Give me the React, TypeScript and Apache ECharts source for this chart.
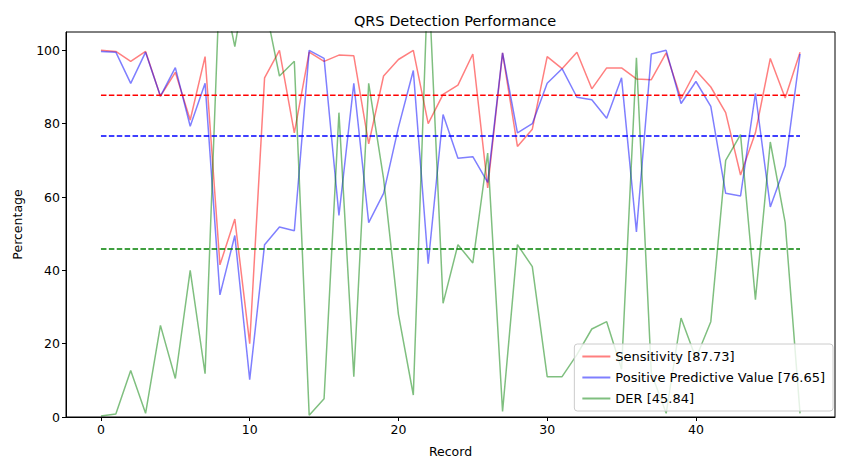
import React, { useEffect, useRef } from 'react';
import * as echarts from 'echarts';

const records = Array.from({ length: 48 }, (_, i) => i);

const sensitivity = [
  100, 99.7, 97, 99.7, 87.5, 94, 81, 98.3, 41.5, 54, 20, 92.5, 100, 77.5, 99.5, 97,
  98.7, 98.5, 74.5, 93, 97.5, 100, 80, 88, 90.5, 99, 62.5, 99.3, 73.8, 78.5, 98.3, 95,
  99.5, 89.5, 95.2, 95.2, 92.2, 92, 99.3, 86.8, 94.5, 90, 83, 66, 77.5, 97.8, 87, 99.5,
];
const ppv = [
  99.7, 99.5, 91, 99.5, 87.5, 95.3, 79.3, 91, 33.3, 49.5, 10.2, 47, 51.8, 50.8, 100, 97.8,
  55, 91, 53, 61, 79, 94.5, 41.8, 82.5, 70.6, 71, 64, 99.3, 77.5, 80, 91, 95,
  87.2, 86.5, 81.5, 92.5, 50.5, 99, 100, 85.5, 91.5, 84.7, 61, 60.3, 88.3, 57.3, 68.5, 99,
];
const der = [
  0.3, 0.8, 12.7, 1, 25, 10.5, 40, 11.8, 121, 101, 125, 113, 93, 97, 0.5, 5,
  83, 11, 91, 65, 28, 6, 122, 31, 47, 42, 72, 1.5, 47, 41, 11, 11,
  17, 24, 26, 13, 98, 12, 1, 27, 16, 26, 70, 77, 32, 75, 53, 1,
];
const means = [87.73, 76.65, 45.84];
const names = ['Sensitivity [87.73]', 'Positive Predictive Value [76.65]', 'DER [45.84]'];
const lineColors = ['rgba(255,0,0,0.5)', 'rgba(0,0,255,0.5)', 'rgba(0,128,0,0.5)'];
const dashColors = ['#ff0000', '#0000ff', '#008000'];
const xTicks = [0, 10, 20, 30, 40];
const yTicks = [0, 20, 40, 60, 80, 100];

const App: React.FC = () => {
  const ref = useRef<HTMLDivElement>(null);

  useEffect(() => {
    if (!ref.current) return;
    const chart = echarts.init(ref.current, null, { renderer: 'svg' });
    const font = 'DejaVu Sans';
    const values = [sensitivity, ppv, der];

    const series: any[] = [];
    values.forEach((vals, i) => {
      series.push({
        name: names[i],
        type: 'line',
        data: records.map((r, j) => [r, vals[j]]),
        showSymbol: false,
        lineStyle: { color: lineColors[i], width: 1.5 },
        itemStyle: { color: lineColors[i] },
        z: 2,
      });
    });
    means.forEach((m, i) => {
      series.push({
        name: 'mean' + i,
        type: 'line',
        data: [[0, m], [47, m]],
        showSymbol: false,
        lineStyle: { color: dashColors[i], width: 1.5, type: [5.5, 2.4] },
        z: 3,
      });
    });

    chart.setOption({
      animation: false,
      textStyle: { fontFamily: font },
      title: {
        text: 'QRS Detection Performance',
        left: 450,
        textAlign: 'center',
        top: 8,
        textStyle: { fontFamily: font, fontSize: 14.5, fontWeight: 'normal', color: '#000' },
      },
      grid: { left: 66, right: 15, top: 32, bottom: 53 },
      legend: {
        data: names,
        orient: 'vertical',
        right: 17,
        bottom: 59,
        itemWidth: 28,
        itemHeight: 2,
        itemGap: 8,
        icon: 'rect',
        padding: [6, 8, 6, 8],
        backgroundColor: 'rgba(255,255,255,0.8)',
        borderColor: '#cccccc',
        borderWidth: 1,
        borderRadius: 3,
        textStyle: { fontFamily: font, fontSize: 13, color: '#000' },
      },
      xAxis: {
        type: 'value',
        min: -2.35,
        max: 49.35,
        name: 'Record',
        nameLocation: 'middle',
        nameGap: 28,
        nameTextStyle: { fontFamily: font, fontSize: 12.5, color: '#000' },
        axisLine: { onZero: false, lineStyle: { color: '#000' } },
        axisTick: { show: true, customValues: xTicks, length: 4, lineStyle: { color: '#000' } },
        axisLabel: { customValues: xTicks, color: '#000', fontSize: 12.5, margin: 6 },
        splitLine: { show: false },
      },
      yAxis: {
        type: 'value',
        min: 0,
        max: 105,
        name: 'Percentage',
        nameLocation: 'middle',
        nameGap: 42,
        nameTextStyle: { fontFamily: font, fontSize: 12.5, color: '#000' },
        axisLine: { show: true, onZero: false, lineStyle: { color: '#000' } },
        axisTick: { show: true, customValues: yTicks, length: 4, lineStyle: { color: '#000' } },
        axisLabel: { customValues: yTicks, color: '#000', fontSize: 12.5, margin: 6 },
        splitLine: { show: false },
      },
      graphic: [
        { type: 'rect', shape: { x: 66, y: 32, width: 769, height: 385 }, style: { fill: 'none', stroke: '#000', lineWidth: 1 }, silent: true, z: 10 },
      ],
      series,
    });

    return () => chart.dispose();
  }, []);

  return <div ref={ref} style={{ position: 'absolute', left: 0, top: 0, width: 850, height: 470 }} />;
};

export default App;
